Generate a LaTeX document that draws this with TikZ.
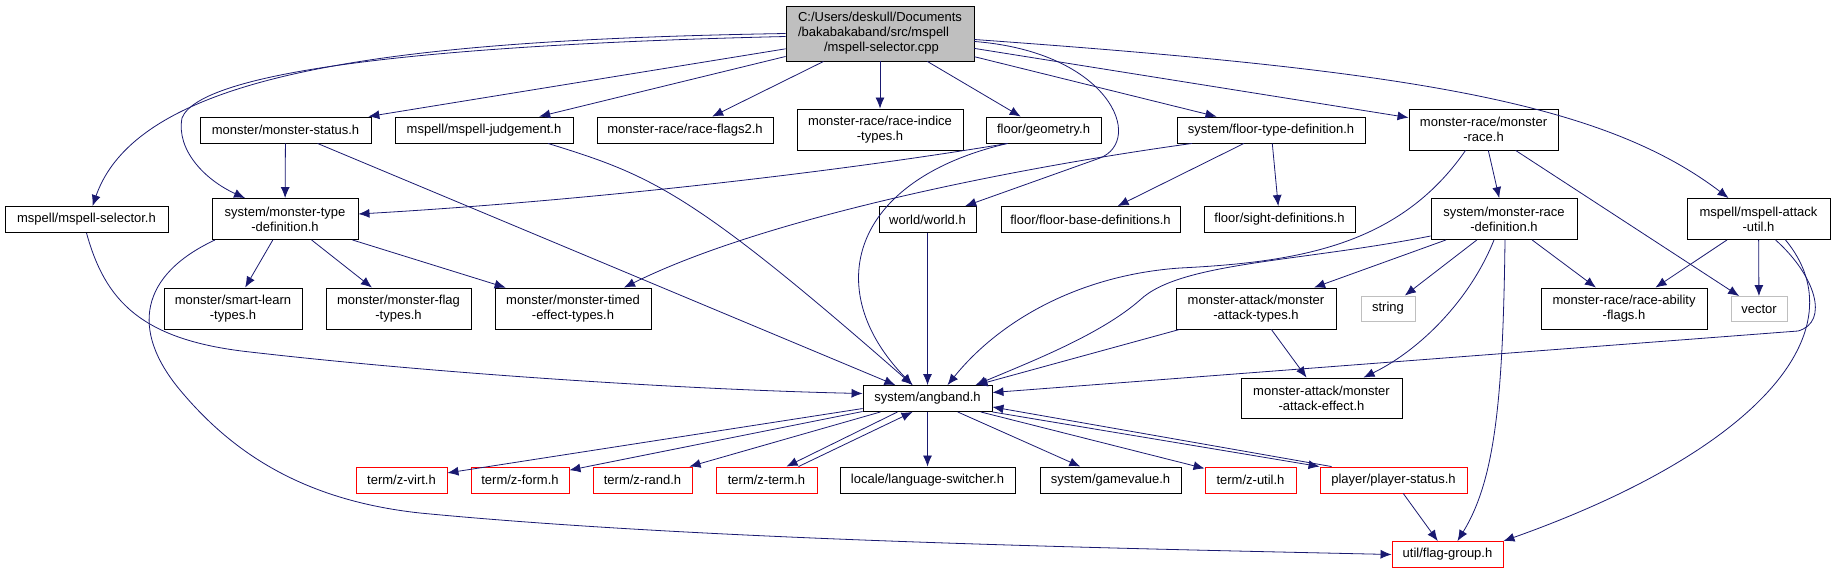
\documentclass[tikz,border=0pt]{standalone}
\usepackage{fontspec}
\setmainfont{Liberation Sans}
\usetikzlibrary{arrows.meta}
\definecolor{edgeblue}{HTML}{191970}
\definecolor{nodegray}{HTML}{BFBFBF}

\begin{document}
\begin{tikzpicture}[x=1pt, y=-1pt,
    box/.style={rectangle, draw=black, fill=white, line width=0.9pt, align=center, minimum height=26pt, inner sep=1pt, font=\fontsize{13}{15}\selectfont},
    tall/.style={minimum height=41pt},
    redbox/.style={box, draw=red},
    graybox/.style={box, draw=nodegray},
    root/.style={box, fill=nodegray, minimum height=55pt, align=left},
    line/.style={draw=edgeblue, line width=0.8pt, -{Latex[length=11pt, width=9pt]}}]
    \useasboundingbox (0,0) rectangle (1835,573);
    \node [root, minimum width=188] (cpp) at (880,33.5) {C:/Users/deskull/Documents\\/bakabakaband/src/mspell\\\hspace{2em}/mspell-selector.cpp};
    \node [box, minimum width=171] (mstatus) at (285.5,130) {monster/monster-status.h};
    \node [box, minimum width=178] (mjudge) at (484,130) {mspell/mspell-judgement.h};
    \node [box, minimum width=176] (flags2) at (685,130) {monster-race/race-flags2.h};
    \node [box, tall, minimum width=166] (indice) at (880,129.5) {monster-race/race-indice\\-types.h};
    \node [box, minimum width=115] (geometry) at (1043.5,130) {floor/geometry.h};
    \node [box, minimum width=188] (floortype) at (1271,130) {system/floor-type-definition.h};
    \node [box, tall, minimum width=149] (mrace) at (1483.5,129.5) {monster-race/monster\\-race.h};
    \node [box, minimum width=163] (mselector) at (86.5,219.5) {mspell/mspell-selector.h};
    \node [box, tall, minimum width=146] (mtypedef) at (285,219) {system/monster-type\\-definition.h};
    \node [box, minimum width=97] (world) at (927.5,219.5) {world/world.h};
    \node [box, minimum width=179] (floorbase) at (1090.5,219.5) {floor/floor-base-definitions.h};
    \node [box, minimum width=151] (sight) at (1279.5,219.5) {floor/sight-definitions.h};
    \node [box, tall, minimum width=146] (mracedef) at (1504,219) {system/monster-race\\-definition.h};
    \node [box, tall, minimum width=143] (attackutil) at (1758.5,219) {mspell/mspell-attack\\-util.h};
    \node [box, tall, minimum width=138] (smartlearn) at (233,308.5) {monster/smart-learn\\-types.h};
    \node [box, tall, minimum width=145] (flagtypes) at (398.5,308.5) {monster/monster-flag\\-types.h};
    \node [box, tall, minimum width=156] (timed) at (573,308.5) {monster/monster-timed\\-effect-types.h};
    \node [box, tall, minimum width=160] (atktypes) at (1256,308.5) {monster-attack/monster\\-attack-types.h};
    \node [graybox, minimum width=54, minimum height=25] (string) at (1388,308.5) {string};
    \node [box, tall, minimum width=166] (abilityflags) at (1624,308.5) {monster-race/race-ability\\-flags.h};
    \node [graybox, minimum width=56, minimum height=25] (vector) at (1759,309) {vector};
    \node [box, minimum width=129] (angband) at (927.5,398.5) {system/angband.h};
    \node [box, tall, minimum width=161, minimum height=40] (atkeffect) at (1321.5,398) {monster-attack/monster\\-attack-effect.h};
    \node [redbox, minimum width=91] (zvirt) at (401.5,480) {term/z-virt.h};
    \node [redbox, minimum width=98] (zform) at (520,480) {term/z-form.h};
    \node [redbox, minimum width=99] (zrand) at (642.5,480) {term/z-rand.h};
    \node [redbox, minimum width=101] (zterm) at (766.5,480) {term/z-term.h};
    \node [box, minimum width=175] (langsw) at (927.5,480) {locale/language-switcher.h};
    \node [box, minimum width=141] (gamevalue) at (1110.5,480) {system/gamevalue.h};
    \node [redbox, minimum width=91] (zutil) at (1250.5,480) {term/z-util.h};
    \node [redbox, minimum width=147] (playerstatus) at (1393.5,480) {player/player-status.h};
    \node [redbox, minimum width=111] (flaggroup) at (1447.5,554.5) {util/flag-group.h};
    % includes of the .cpp file
    \path [line] (cpp.west) .. controls (400,40) and (140,70) .. ([xshift=6]mselector.north);
    \path [line] ([yshift=-3]cpp.west) .. controls (420,45) and (200,72) .. (182,118) .. controls (176,150) and (205,180) .. ([xshift=-40]mtypedef.north);
    \path [line] (cpp) -- (mstatus);
    \path [line] (cpp) -- (mjudge);
    \path [line] (cpp) -- (flags2);
    \path [line] (cpp) -- (indice);
    \path [line] (cpp) -- (geometry);
    \path [line] ([yshift=-8]cpp.east) .. controls (1110,52) and (1145,140) .. (1100,158) -- (world);
    \path [line] (cpp) -- (floortype);
    \path [line] (cpp) -- (mrace);
    \path [line] ([yshift=-6]cpp.east) .. controls (1400,70) and (1600,100) .. ([xshift=-30]attackutil.north);
    % second row
    \path [line] (mstatus) -- (mtypedef);
    \path [line] (mstatus) -- (angband);
    \path [line] ([xshift=64]mjudge.south) .. controls (650,175) and (690,190) .. ([xshift=-15]angband.north);
    \path [line] ([xshift=-36]geometry.south) .. controls (850,170) and (600,200) .. ([yshift=5]mtypedef.east);
    \path [line] ([xshift=-36]geometry.south) .. controls (850,180) and (820,290) .. ([xshift=-15]angband.north);
    \path [line] ([xshift=-79]floortype.south) .. controls (1000,170) and (760,220) .. ([xshift=51]timed.north);
    \path [line] (floortype) -- (floorbase);
    \path [line] (floortype) -- (sight);
    \path [line] ([xshift=-18]mrace.south) .. controls (1400,245) and (1300,262) .. (1180,268) .. controls (1080,275) and (1000,320) .. ([xshift=20]angband.north);
    \path [line] (mrace) -- (mracedef);
    \path [line] (mrace) -- (vector);
    % third row
    \path [line] (mselector.south) .. controls (105,300) and (140,340) .. (250,352) .. controls (450,375) and (700,390) .. ([yshift=5]angband.west);
    \path [line] (mtypedef) -- (smartlearn);
    \path [line] (mtypedef) -- (flagtypes);
    \path [line] (mtypedef) -- (timed);
    \path [line] ([xshift=-70]mtypedef.south) .. controls (140,275) and (130,330) .. (180,390) .. controls (230,450) and (300,500) .. (420,513) .. controls (700,540) and (1100,548) .. (flaggroup.west);
    \path [line] (world) -- (angband);
    \path [line] ([yshift=-17]mracedef.west) .. controls (1300,262) and (1180,262) .. (1140,300) .. controls (1100,335) and (1030,362) .. ([xshift=48]angband.north);
    \path [line] (mracedef) -- (atktypes);
    \path [line] (mracedef) -- (string);
    \path [line] ([xshift=-10]mracedef.south) .. controls (1470,300) and (1420,350) .. ([xshift=42]atkeffect.north);
    \path [line] ([xshift=1]mracedef.south) .. controls (1503,400) and (1495,480) .. ([xshift=10]flaggroup.north);
    \path [line] (mracedef) -- (abilityflags);
    \path [line] (attackutil) -- (abilityflags);
    \path [line] (attackutil) -- (vector);
    \path [line] ([xshift=17]attackutil.south) .. controls (1815,275) and (1830,322) .. (1798,331) -- ([yshift=6]angband.east);
    \path [line] ([xshift=27]attackutil.south) .. controls (1860,330) and (1760,450) .. (flaggroup.north east);
    \path [line] (atktypes) -- (angband);
    \path [line] (atktypes) -- (atkeffect);
    % angband.h and below
    \path [line] (angband) -- (zvirt);
    \path [line] (angband) -- (zform);
    \path [line] (angband) -- (zrand);
    \path [line] ([xshift=-30]angband.south) -- ([xshift=20]zterm.north);
    \path [line] ([xshift=32]zterm.north) -- ([xshift=-15]angband.south);
    \path [line] (angband) -- (langsw);
    \path [line] (angband) -- (gamevalue);
    \path [line] (angband) -- (zutil);
    \path [line] (angband.south east) -- (playerstatus.north west);
    \path [line] ([xshift=12]playerstatus.north west) -- ([yshift=5]angband.south east);
    \path [line] (playerstatus) -- (flaggroup);
\end{tikzpicture}
\end{document}
